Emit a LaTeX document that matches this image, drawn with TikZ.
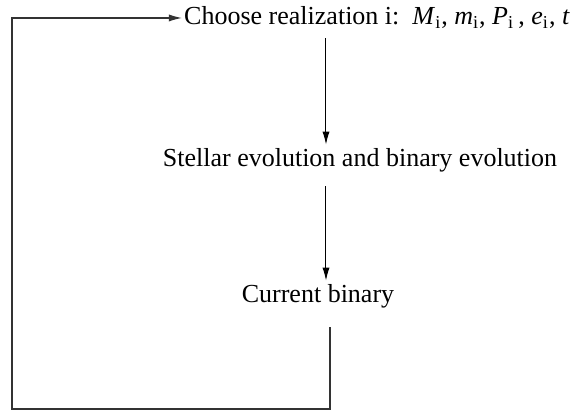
\documentclass[tikz,border=0pt]{standalone}
\usepackage{fontspec}
\setmainfont{Liberation Serif}
\usepackage{tikz}
\usetikzlibrary{arrows.meta}

\begin{document}
\begin{tikzpicture}[
  x=0.5pt,y=-0.5pt,
  txt/.style={inner sep=0pt,anchor=base,font=\fontsize{13}{15}\selectfont},
  arr/.style={-{Latex[length=6.5pt,width=3.6pt]},line width=0.5pt,draw=black},
  back/.style={-{Latex[length=6.5pt,width=3.6pt]},line width=0.55pt,draw=black!80}
]
\useasboundingbox (0,0) rectangle (575,412);
\coordinate (axis) at (326,0);
\coordinate (retx) at (330,0);
\coordinate (corner) at (12,409);
\node[txt] (choose) at (377,25) {Choose realization i:\enspace\textit{M}\textsubscript{i}, \textit{m}\textsubscript{i}, \textit{P}\textsubscript{i}\,, \textit{e}\textsubscript{i}, \textit{t}};
\node[txt] (evol) at (360,167) {Stellar evolution and binary evolution};
\node[txt] (current) at (318,303) {Current binary};
\draw[arr,shorten <=4.5pt,shorten >=2pt] (choose.south -| axis) -- (evol.north -| axis);
\draw[arr,shorten <=6.5pt,shorten >=2pt] (evol.south -| axis) -- (current.north -| axis);
\draw[back,shorten >=1pt] ([yshift=-9pt]current.south -| retx) -- (retx |- corner) -- (corner) |- (choose.west);
\end{tikzpicture}
\end{document}
